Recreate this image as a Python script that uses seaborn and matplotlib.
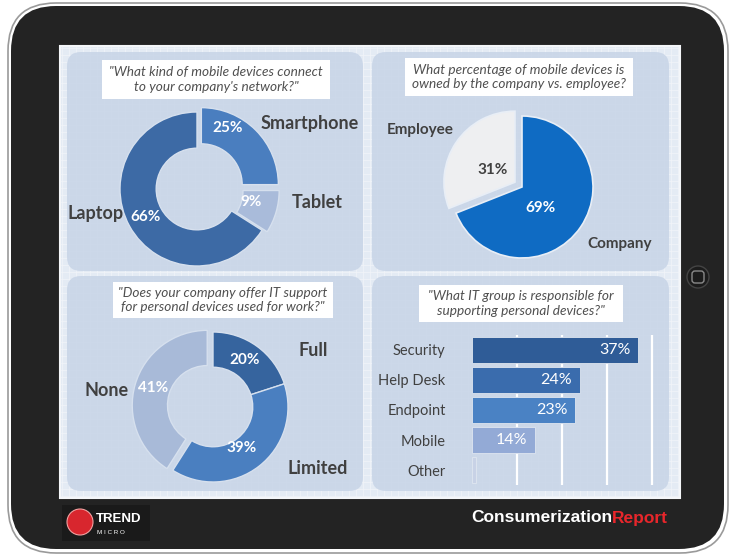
import numpy as np
import matplotlib
matplotlib.use("Agg")
import matplotlib.pyplot as plt
from matplotlib.patches import FancyBboxPatch, Circle, Rectangle
import seaborn as sns

# ---------------- data ----------------
q1_labels = ["Smartphone", "Tablet", "Laptop"]
q1_values = [25, 9, 66]
q2_labels = ["Company", "Employee"]
q2_values = [69, 31]
q3_labels = ["Full", "Limited", "None"]
q3_values = [20, 39, 41]
q4_labels = ["Security", "Help Desk", "Endpoint", "Mobile", "Other"]
q4_values = [37, 24, 23, 14, 1]

titles = [
    "\"What kind of mobile devices connect\nto your company's network?\"",
    "What percentage of mobile devices is\nowned by the company vs. employee?",
    "\"Does your company offer IT support\nfor personal devices used for work?\"",
    "\"What IT group is responsible for\nsupporting personal devices?\"",
]

sns.set_theme(style="white")
plt.rcParams['font.family'] = ['Lato', 'DejaVu Sans']

W, H = 736, 556
fig = plt.figure(figsize=(W / 100, H / 100), dpi=100)
fig.patch.set_facecolor("white")

bg = fig.add_axes([0, 0, 1, 1])
bg.set_xlim(0, W)
bg.set_ylim(H, 0)
bg.axis("off")

def rbox(x0, y0, x1, y1, r, fc, ec="none", lw=0, z=1, alpha=1):
    p = FancyBboxPatch((x0, y0), x1 - x0, y1 - y0,
                       boxstyle=f"round,pad=0,rounding_size={r}",
                       fc=fc, ec=ec, lw=lw, zorder=z, alpha=alpha)
    bg.add_patch(p)

# tablet frame
rbox(8, 3, 728, 553, 48, "white", "#9a9a9a", 1.2, 1)
rbox(11, 6, 724, 549, 45, "#232323", "none", 0, 2)
# screen
bg.add_patch(Rectangle((60, 46), 620, 452, fc="#E4EBF4", ec="#f4f6f9", lw=1.5, zorder=3))
for gx in np.arange(62, 680, 7):
    bg.plot([gx, gx], [47, 497], color="#F2F5F9", lw=0.5, zorder=3.5)
for gy in np.arange(48, 498, 7):
    bg.plot([61, 679], [gy, gy], color="#F2F5F9", lw=0.5, zorder=3.5)
# panels
panel_c = "#C7D4E7"
for (x0, y0, x1, y1) in [(67, 52, 363, 271), (372, 52, 669, 271),
                         (67, 276, 363, 491), (372, 276, 669, 491)]:
    rbox(x0, y0, x1, y1, 14, panel_c, "none", 0, 4, alpha=0.85)

# title boxes
title_boxes = [(102, 60, 330, 99), (405, 58, 633, 96), (113, 282, 333, 318), (419, 285, 623, 322)]
for (x0, y0, x1, y1), t in zip(title_boxes, titles):
    bg.add_patch(Rectangle((x0, y0), x1 - x0, y1 - y0, fc="white", ec="none", zorder=5))
    bg.text((x0 + x1) / 2, (y0 + y1) / 2, t, ha="center", va="center",
            fontsize=9.8, style="italic", color="#505050", zorder=6, linespacing=1.25)

# home button
bg.add_patch(Circle((698, 277), 11, fc="#1c1c1c", ec="#444444", lw=1, zorder=3))
rbox(692, 271, 704, 283, 3, "none", "#8a8a8a", 1.0, 4)

# logos
bg.add_patch(Rectangle((62, 505), 88, 36, fc="#1a1a1a", ec="none", zorder=3))
bg.add_patch(Circle((80, 522), 13, fc="#D8262E", ec="#f0a0a0", lw=0.8, zorder=4))
bg.text(96, 519, "TREND", color="white", fontsize=9.5, fontweight="bold",
        ha="left", va="center", zorder=5, family=["Liberation Sans", "DejaVu Sans"])
bg.text(97, 532, "M I C R O", color="white", fontsize=4.5, ha="left", va="center", zorder=5,
        family=["Liberation Sans", "DejaVu Sans"])
t1 = bg.text(471, 518, "Consumerization", color="white", fontsize=12.5, fontweight="bold",
             ha="left", va="center", zorder=5, family=["Liberation Sans Narrow", "Liberation Sans", "DejaVu Sans"])
fig.canvas.draw()
bb = t1.get_window_extent()
xr = bb.x1  # pixels == data x
bg.text(xr, 518, "Report", color="#E8262B", fontsize=12.5, fontweight="bold",
        ha="left", va="center", zorder=5, family=["Liberation Sans Narrow", "Liberation Sans", "DejaVu Sans"])

# ---------------- helpers ----------------
def square_axes(cx, cy, R, lim=1.25):
    S = 2 * R * lim
    ax = fig.add_axes([(cx - S / 2) / W, 1 - (cy + S / 2) / H, S / W, S / H])
    ax.set_xlim(-lim, lim)
    ax.set_ylim(-lim, lim)
    ax.set_aspect("equal")
    ax.axis("off")
    return ax

label_c = "#404040"

# ---------- chart 1: donut ----------
ax1 = square_axes(197, 189, 77)
ax1.pie(q1_values, colors=["#4A7EBF", "#A9BBDA", "#3D6AA5"], startangle=90, counterclock=False,
        explode=[0.08, 0.07, 0.0], radius=1.0,
        wedgeprops=dict(width=0.47, edgecolor="#D6E0EE", linewidth=1.0))
fig.text(228 / W, 1 - 128 / H, f"{q1_values[0]}%", color="white", fontsize=11, fontweight="bold", ha="center", va="center")
fig.text(251 / W, 1 - 202 / H, f"{q1_values[1]}%", color="white", fontsize=11, fontweight="bold", ha="center", va="center")
fig.text(146 / W, 1 - 217 / H, f"{q1_values[2]}%", color="white", fontsize=11, fontweight="bold", ha="center", va="center")
fig.text(310 / W, 1 - 123 / H, q1_labels[0], color=label_c, fontsize=13, fontweight="bold", ha="center", va="center")
fig.text(317 / W, 1 - 203 / H, q1_labels[1], color=label_c, fontsize=13, fontweight="bold", ha="center", va="center")
fig.text(96 / W, 1 - 213 / H, q1_labels[2], color=label_c, fontsize=13, fontweight="bold", ha="center", va="center")

# ---------- chart 2: pie ----------
ax2 = square_axes(522, 187, 71)
ax2.pie(q2_values, colors=["#0F6BC3", "#EEEFF1"], startangle=90, counterclock=False,
        explode=[0.0, 0.12], radius=1.0,
        wedgeprops=dict(edgecolor="#E8EEF6", linewidth=1.2))
fig.text(493 / W, 1 - 170 / H, f"{q2_values[1]}%", color=label_c, fontsize=11, fontweight="bold", ha="center", va="center")
fig.text(540 / W, 1 - 208 / H, f"{q2_values[0]}%", color="white", fontsize=11, fontweight="bold", ha="center", va="center")
fig.text(420 / W, 1 - 130 / H, q2_labels[1], color=label_c, fontsize=11, fontweight="bold", ha="center", va="center")
fig.text(620 / W, 1 - 244 / H, q2_labels[0], color=label_c, fontsize=11, fontweight="bold", ha="center", va="center")

# ---------- chart 3: donut ----------
ax3 = square_axes(213, 407, 75)
ax3.pie(q3_values, colors=["#36649E", "#4A7FC0", "#A8BAD8"], startangle=90, counterclock=False,
        explode=[0.0, 0.0, 0.08], radius=1.0,
        wedgeprops=dict(width=0.47, edgecolor="#D6E0EE", linewidth=1.0))
fig.text(245 / W, 1 - 360 / H, f"{q3_values[0]}%", color="white", fontsize=11, fontweight="bold", ha="center", va="center")
fig.text(242 / W, 1 - 448 / H, f"{q3_values[1]}%", color="white", fontsize=11, fontweight="bold", ha="center", va="center")
fig.text(153 / W, 1 - 388 / H, f"{q3_values[2]}%", color="white", fontsize=11, fontweight="bold", ha="center", va="center")
fig.text(313 / W, 1 - 350 / H, q3_labels[0], color=label_c, fontsize=13, fontweight="bold", ha="center", va="center")
fig.text(318 / W, 1 - 468 / H, q3_labels[1], color=label_c, fontsize=13, fontweight="bold", ha="center", va="center")
fig.text(107 / W, 1 - 390 / H, q3_labels[2], color=label_c, fontsize=13, fontweight="bold", ha="center", va="center")

# ---------- chart 4: bars ----------
ax4 = fig.add_axes([472 / W, 1 - 485 / H, (655 - 472) / W, (485 - 335) / H])
ax4.patch.set_alpha(0)
bar_colors = ["#2F5C97", "#3A6CAD", "#4A82C4", "#93AAD6", "#C8D2E6"]
sns.barplot(x=q4_values, y=q4_labels, hue=q4_labels, palette=bar_colors, legend=False,
            orient="h", width=0.84, ax=ax4, saturation=1, edgecolor="#dfe6f0", linewidth=0.6, zorder=3)
ax4.set_xlim(0, 40.7)
ax4.set_ylim(4.5, -0.5)
ax4.set_xticks([10, 20, 30, 40])
ax4.grid(axis="x", color="white", lw=1.6, zorder=0)
ax4.set_axisbelow(True)
ax4.tick_params(axis="x", bottom=False, labelbottom=False)
ax4.tick_params(axis="y", left=False, pad=13, labelsize=10.5, labelcolor=label_c)
for s in ax4.spines.values():
    s.set_visible(False)
ax4.set_xlabel("")
ax4.set_ylabel("")
for i, v in enumerate(q4_values):
    if v >= 5:
        ax4.text(v - 1.7, i, f"{v}%", color="white", fontsize=11.5, ha="right", va="center", zorder=5)

fig.savefig("out.png", dpi=100, facecolor="white")
